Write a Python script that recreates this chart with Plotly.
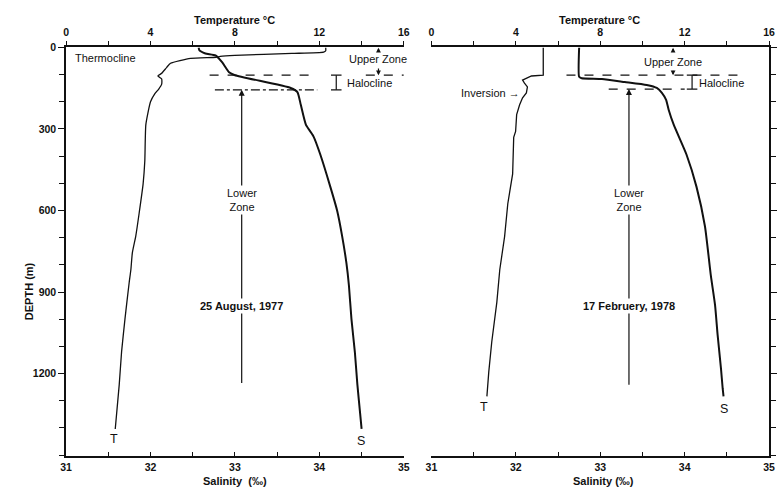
import plotly.graph_objects as go

# ---------------- data ----------------
# Panel 1: 25 August 1977
aug_T_depth = [0, 12, 17, 22, 29, 33, 36, 40, 58, 73, 95, 105, 116, 135, 153, 171, 200, 284, 418, 502, 611, 695, 756, 818, 865, 938, 1000, 1120, 1240, 1404]
aug_T = [12.3, 12.3, 12.2, 10.7, 8.0, 7.3, 7.1, 5.9, 4.95, 4.77, 4.53, 4.35, 4.53, 4.53, 4.39, 4.2, 4.0, 3.78, 3.73, 3.65, 3.46, 3.3, 3.14, 3.07, 2.99, 2.88, 2.79, 2.63, 2.52, 2.33]
aug_S_depth = [0, 11, 22, 29, 55, 91, 102, 149, 164, 211, 284, 327, 393, 513, 600, 695, 793, 876, 1000, 1120, 1240, 1338, 1404]
aug_S = [32.57, 32.58, 32.65, 32.77, 32.85, 32.93, 33.0, 33.66, 33.74, 33.78, 33.84, 33.93, 34.01, 34.13, 34.21, 34.27, 34.32, 34.35, 34.38, 34.42, 34.45, 34.48, 34.50]

# Panel 2: 17 February 1978
feb_T_depth = [0, 102, 105, 113, 120, 131, 145, 167, 185, 211, 247, 309, 331, 465, 575, 695, 818, 938, 1084, 1193, 1284]
feb_T = [5.3, 5.3, 4.74, 4.5, 4.32, 4.41, 4.55, 4.5, 4.32, 4.18, 4.04, 3.99, 3.9, 3.85, 3.62, 3.47, 3.24, 3.1, 2.86, 2.72, 2.63]
feb_S_depth = [0, 108, 113, 116, 127, 138, 149, 167, 193, 229, 284, 393, 513, 658, 840, 949, 1058, 1182, 1255, 1284]
feb_S = [32.75, 32.75, 32.78, 33.02, 33.29, 33.55, 33.67, 33.73, 33.78, 33.81, 33.87, 34.02, 34.14, 34.24, 34.31, 34.36, 34.39, 34.43, 34.45, 34.46]

# zone boundaries (m)
aug_halocline = [102, 156]
feb_halocline = [102, 153]

depth_range = [1505, 0]
temp_range = [0, 16]
sal_range = [31, 35]
temp_ticks = [0, 4, 8, 12, 16]
sal_ticks = [31, 32, 33, 34, 35]
depth_ticks = [0, 300, 600, 900, 1200]

FONT = "Liberation Sans, Arial, sans-serif"
INK = "#111111"
W, H = 783, 489

def px(v, total):
    return v / total

dom1 = [px(61, W), px(404, W)]
dom2 = [px(432, W), px(775, W)]
ydom = [1 - px(456, H), 1 - px(42, H)]

fig = go.Figure()

fig.add_trace(go.Scatter(x=aug_T, y=aug_T_depth, mode="lines", xaxis="x2", yaxis="y",
                         line=dict(color=INK, width=1.3, shape="spline", smoothing=0.5), showlegend=False))
fig.add_trace(go.Scatter(x=aug_S, y=aug_S_depth, mode="lines", xaxis="x", yaxis="y",
                         line=dict(color=INK, width=2, shape="spline", smoothing=0.5), showlegend=False))
fig.add_trace(go.Scatter(x=feb_T, y=feb_T_depth, mode="lines", xaxis="x4", yaxis="y2",
                         line=dict(color=INK, width=1.3), showlegend=False))
fig.add_trace(go.Scatter(x=feb_S, y=feb_S_depth, mode="lines", xaxis="x3", yaxis="y2",
                         line=dict(color=INK, width=2, shape="spline", smoothing=0.5), showlegend=False))

tickfont = dict(family=FONT, size=10.5, color=INK, weight="bold")

def sal_axis(dom, anchor):
    return dict(domain=dom, range=sal_range, anchor=anchor, side="bottom",
                tickvals=sal_ticks, ticks="inside", ticklen=5, tickcolor=INK, tickwidth=1.3,
                minor=dict(dtick=0.5, tick0=31, ticks="inside", ticklen=5, tickcolor=INK, tickwidth=1.3),
                showline=True, linecolor=INK, linewidth=1.6, showgrid=False, zeroline=False,
                tickfont=tickfont, ticklabelstandoff=0)

def temp_axis(dom, anchor, over):
    return dict(domain=dom, range=temp_range, anchor=anchor, side="top", overlaying=over,
                tickvals=temp_ticks, ticks="outside", ticklen=5, tickcolor=INK, tickwidth=1.3,
                minor=dict(dtick=2, tick0=0, ticks="outside", ticklen=5, tickcolor=INK, tickwidth=1.3),
                showline=True, linecolor=INK, linewidth=1.6, showgrid=False, zeroline=False,
                tickfont=tickfont, ticklabelstandoff=0)

def depth_axis(anchor, side, labels):
    return dict(domain=ydom, range=depth_range, anchor=anchor, side=side,
                tickvals=depth_ticks, ticks="outside", ticklen=6, tickcolor=INK, tickwidth=1.3,
                minor=dict(dtick=100, tick0=0, ticks="outside", ticklen=5, tickcolor=INK, tickwidth=1.3),
                showline=True, linecolor=INK, linewidth=1.6, showgrid=False, zeroline=False,
                showticklabels=labels, tickfont=tickfont)

fig.update_layout(
    width=W, height=H, margin=dict(l=0, r=0, t=0, b=0),
    paper_bgcolor="white", plot_bgcolor="white",
    xaxis=sal_axis(dom1, "y"),
    xaxis2=temp_axis(dom1, "y", "x"),
    xaxis3=sal_axis(dom2, "y2"),
    xaxis4=temp_axis(dom2, "y2", "x3"),
    yaxis=depth_axis("x", "left", True),
    yaxis2=depth_axis("x3", "right", False),
)

ann = []
shapes = []

def text(x, y, s, xref, yref, size=11, xanchor="center", bold=False, bg=None):
    d = dict(x=x, y=y, xref=xref, yref=yref, text=("<b>%s</b>" % s) if bold else s,
             showarrow=False, xanchor=xanchor, yanchor="middle",
             font=dict(family=FONT, size=size, color=INK))
    if bg:
        d.update(bgcolor=bg, borderpad=1)
    ann.append(d)

def arrow(x, y_tip, y_tail, xref, yref, head=2, size=1.0, width=1.2):
    ann.append(dict(x=x, y=y_tip, ax=x, ay=y_tail, xref=xref, yref=yref, axref=xref, ayref=yref,
                    text="", showarrow=True, arrowhead=head, arrowsize=size, arrowwidth=width,
                    arrowcolor=INK))

def hline(x0, x1, y, xref, yref, dash="dash"):
    shapes.append(dict(type="line", x0=x0, x1=x1, y0=y, y1=y, xref=xref, yref=yref,
                       line=dict(color=INK, width=1.2, dash=dash)))

def bracket(x, y0, y1, xref, yref, cap=0.25):
    shapes.append(dict(type="line", x0=x, x1=x, y0=y0, y1=y1, xref=xref, yref=yref,
                       line=dict(color=INK, width=1.2)))
    for yy in (y0, y1):
        shapes.append(dict(type="line", x0=x - cap, x1=x + cap, y0=yy, y1=yy, xref=xref, yref=yref,
                           line=dict(color=INK, width=1.2)))

# ----- panel 1 annotations -----
text(0.33, 40, "Thermocline", "x2", "y", xanchor="left")
text(14.8, 44, "Upper Zone", "x2", "y")
arrow(14.8, 1, 22, "x2", "y", head=2, size=0.8)
arrow(14.8, aug_halocline[0], 72, "x2", "y", head=2, size=0.8)
hline(6.8, 11.8, aug_halocline[0], "x2", "y")
hline(14.2, 16.0, aug_halocline[0], "x2", "y")
hline(7.05, 11.9, aug_halocline[1], "x2", "y", dash="dashdot")
bracket(12.8, aug_halocline[0], aug_halocline[1], "x2", "y")
text(13.2, 131, "Halocline", "x2", "y", xanchor="left")
arrow(33.08, aug_halocline[1], 1240, "x", "y", head=2, size=1.0)
text(33.08, 560, "Lower<br>Zone", "x", "y", bg="white")
text(33.08, 950, "25 August, 1977", "x", "y", bold=True, bg="white")
text(31.57, 1440, "T", "x", "y", size=12.5)
text(34.49, 1447, "S", "x", "y", size=12.5)

# ----- panel 2 annotations -----
text(11.45, 55, "Upper Zone", "x4", "y2")
arrow(11.45, 1, 20, "x4", "y2", head=2, size=0.8)
arrow(11.45, feb_halocline[0], 80, "x4", "y2", head=2, size=0.8)
hline(6.4, 14.5, feb_halocline[0], "x4", "y2")
hline(8.4, 12.0, feb_halocline[1], "x4", "y2")
bracket(12.35, feb_halocline[0], feb_halocline[1], "x4", "y2")
text(12.6, 131, "Halocline", "x4", "y2", xanchor="left")
text(4.3, 167, "Inversion →", "x4", "y2", xanchor="right")
arrow(33.34, feb_halocline[1], 1247, "x3", "y2", head=2, size=1.0)
text(33.34, 560, "Lower<br>Zone", "x3", "y2", bg="white")
text(33.34, 950, "17 Februery, 1978", "x3", "y2", bold=True, bg="white")
text(31.62, 1324, "T", "x3", "y2", size=12.5)
text(34.46, 1331, "S", "x3", "y2", size=12.5)

# ----- axis titles -----
text(232 / W, 1 - 14 / H, "Temperature °C", "paper", "paper", size=11, bold=True)
text(603 / W, 1 - 14 / H, "Temperature °C", "paper", "paper", size=11, bold=True)
text(233 / W, 1 - 481 / H, "Salinity  (‰)", "paper", "paper", size=11, bold=True)
text(607 / W, 1 - 481 / H, "Salinity (‰)", "paper", "paper", size=11, bold=True)
ann.append(dict(x=16 / W, y=1 - 289 / H, xref="paper", yref="paper", text="<b>DEPTH (m)</b>",
                showarrow=False, textangle=-90, font=dict(family=FONT, size=11, color=INK)))

fig.update_layout(annotations=ann, shapes=shapes)
fig.write_html("out.html", config={"displayModeBar": False},
               post_script="document.body.style.margin='0';document.body.style.overflow='hidden';")
